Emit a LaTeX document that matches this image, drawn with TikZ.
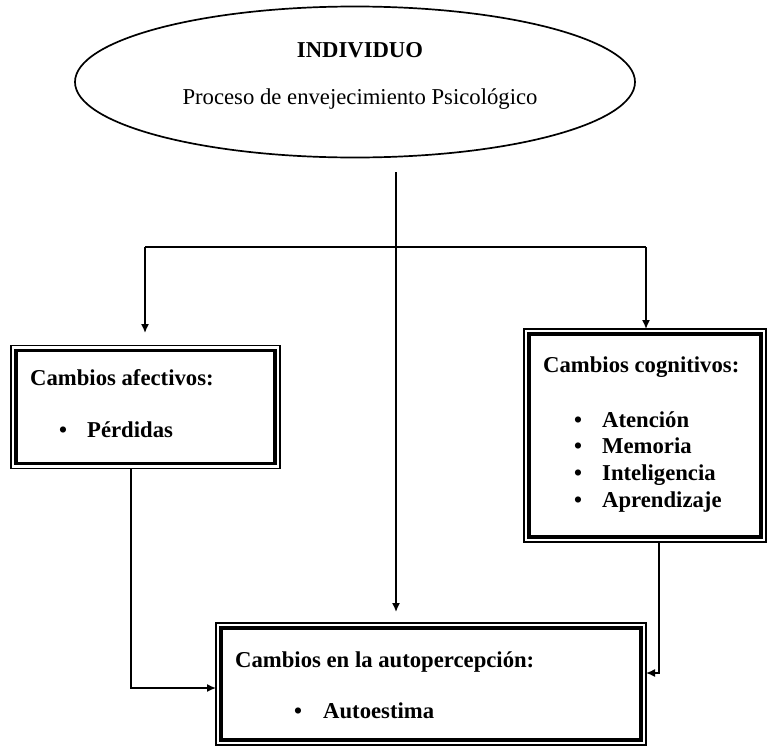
\documentclass[tikz,border=0pt]{standalone}
\usepackage{fontspec}
\setmainfont{Liberation Serif}
\usetikzlibrary{arrows.meta,shapes.geometric}
\begin{document}
\begin{tikzpicture}[x=1pt,y=-1pt,
  conn/.style={line width=1.5pt},
  arr/.style={conn,-{Latex[length=9pt,width=8pt]}},
  lbl/.style={inner sep=0pt,anchor=base west,font=\fontsize{22.7}{27}\selectfont\bfseries},
  bul/.style={inner sep=0pt,anchor=base,font=\fontsize{22.7}{27}\selectfont\bfseries},
  etxt/.style={inner sep=0pt,anchor=base,font=\fontsize{22.7}{27}\selectfont},
  outerbox/.style={draw,line width=1.5pt,inner sep=0pt,outer sep=0pt,anchor=north west},
  innerline/.style={line width=3.5pt}]
\useasboundingbox (0,0) rectangle (769,747);

% ellipse
\node[draw,ellipse,minimum width=560,minimum height=151,inner sep=0pt,outer sep=0pt,line width=1.7pt] (ind) at (355,82) {};
\node[etxt,font=\fontsize{22.7}{27}\selectfont\bfseries] (indt) at (360,57) {INDIVIDUO};
\node[etxt] (proc) at (360,104) {Proceso de envejecimiento Psicológico};

% boxes
\node[outerbox,minimum width=269,minimum height=123] (left) at (11,345.5) {};
\draw[innerline] ([shift={(5,5)}]left.north west) rectangle ([shift={(-5,-5)}]left.south east);
\node[outerbox,minimum width=242,minimum height=213] (right) at (524,329) {};
\draw[innerline] ([shift={(5,5)}]right.north west) rectangle ([shift={(-5,-5)}]right.south east);
\node[outerbox,minimum width=430,minimum height=122] (bot) at (216,623) {};
\draw[innerline] ([shift={(5,5)}]bot.north west) rectangle ([shift={(-5,-5)}]bot.south east);

% texts
\node[lbl] (lt) at (30,385) {Cambios afectivos:};
\node[bul] (lb1) at (63,437) {•};
\node[lbl] (l1) at (87,437) {Pérdidas};

\node[lbl] (rt) at (543,372) {Cambios cognitivos:};
\node[bul] (rb1) at (578,427) {•};
\node[lbl] (r1) at (602,427) {Atención};
\node[bul] (rb2) at (578,453) {•};
\node[lbl] (r2) at (602,453) {Memoria};
\node[bul] (rb3) at (578,480) {•};
\node[lbl] (r3) at (602,480) {Inteligencia};
\node[bul] (rb4) at (578,507) {•};
\node[lbl] (r4) at (602,507) {Aprendizaje};

\node[lbl] (bt) at (235,667) {Cambios en la autopercepción:};
\node[bul] (bb1) at (298,718) {•};
\node[lbl] (b1) at (323,718) {Autoestima};

% connectors
\coordinate (top) at (396,172);
\coordinate (mainend) at (396,612);
\coordinate (hl) at (145,247);
\coordinate (hr) at (646,247);
\coordinate (lend) at (145,333);
\coordinate (la) at (131,688);
\coordinate (ra) at (659,673);

\draw[arr] (top) -- (mainend);
\draw[conn] (hl) -- (hr);
\draw[arr] (hl) -- (lend);
\draw[arr] (hr) -- (hr |- right.north);
\draw[arr] (la |- left.south) |- (bot.west |- la);
\draw[arr] (ra |- right.south) |- (bot.east |- ra);
\end{tikzpicture}
\end{document}
